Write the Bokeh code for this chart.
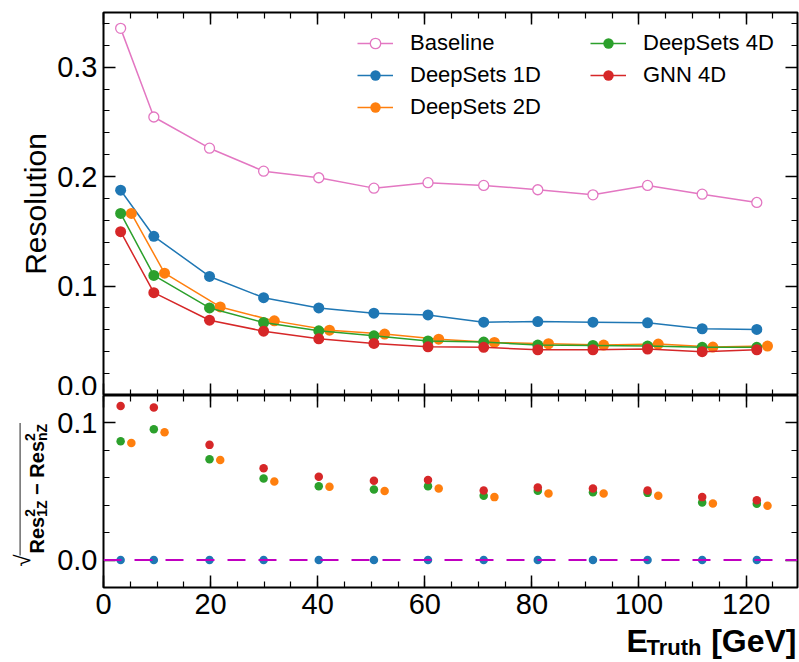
import numpy as np
from bokeh.plotting import figure
from bokeh.models import (Range1d, FixedTicker, LinearAxis, PrintfTickFormatter,
                          Legend, LegendItem, Span)
from bokeh.core.properties import value
from bokeh.layouts import column, row
from bokeh.embed import file_html
from bokeh.resources import INLINE

# ---------------- data ----------------
e_truth = [3.2, 9.4, 19.8, 29.9, 40.2, 50.5, 60.6, 71.0, 81.1, 91.4, 101.6, 111.8, 122.0]
shift_2d = 2.0

res_baseline = [0.3355, 0.2545, 0.226, 0.205, 0.199, 0.1895, 0.1945, 0.192, 0.188, 0.1834, 0.192, 0.184, 0.1764]
res_ds1d = [0.1876, 0.1455, 0.1088, 0.0894, 0.080, 0.0752, 0.0736, 0.067, 0.0676, 0.067, 0.0664, 0.061, 0.0604]
res_ds2d = [0.1664, 0.1118, 0.0809, 0.0682, 0.0597, 0.0561, 0.0515, 0.0485, 0.0473, 0.0461, 0.047, 0.0443, 0.0452]
res_ds4d = [0.1664, 0.1097, 0.080, 0.0667, 0.0591, 0.0545, 0.0498, 0.0488, 0.0461, 0.0458, 0.0452, 0.044, 0.044]
res_gnn = [0.1497, 0.094, 0.0688, 0.0588, 0.0518, 0.0476, 0.0445, 0.044, 0.0418, 0.0418, 0.0425, 0.040, 0.0418]

diff_ds1d = [0.0, 0.0, 0.0, 0.0, 0.0, 0.0, 0.0, 0.0, 0.0, 0.0, 0.0, 0.0, 0.0]
diff_ds2d = [0.0854, 0.0932, 0.073, 0.0573, 0.0534, 0.0503, 0.0522, 0.0459, 0.0486, 0.0486, 0.0469, 0.0413, 0.0396]
diff_ds4d = [0.0867, 0.0954, 0.0736, 0.0595, 0.0539, 0.0515, 0.0539, 0.0469, 0.0505, 0.0495, 0.049, 0.042, 0.041]
diff_gnn = [0.1124, 0.1112, 0.084, 0.067, 0.0607, 0.0578, 0.0584, 0.0507, 0.053, 0.0522, 0.0507, 0.0459, 0.0437]

labels = ["Baseline", "DeepSets 1D", "DeepSets 2D", "DeepSets 4D", "GNN 4D"]
x_major = [0, 20, 40, 60, 80, 100, 120]
x_minor = [v for v in range(0, 130, 5)]
top_major = [0.0, 0.1, 0.2, 0.3]
top_minor = [round(0.02 * i, 2) for i in range(0, 18)]
bot_major = [0.0, 0.1]
bot_minor = [round(-0.02 + 0.02 * i, 2) for i in range(0, 8)]

C_BASE = "#e377c2"
C_1D = "#1f77b4"
C_2D = "#ff7f0e"
C_4D = "#2ca02c"
C_GNN = "#d62728"
FONT = "Liberation Sans"

W = 799
LEFT = 103
RIGHT = 2
LAB_W = 50
XR = Range1d(0, 129.6)


def style_axis(ax, show_labels, ticks, minor, fmt="%.1f"):
    ax.ticker = FixedTicker(ticks=ticks, minor_ticks=minor)
    ax.formatter = PrintfTickFormatter(format=fmt)
    ax.major_tick_in = 12
    ax.major_tick_out = 0
    ax.minor_tick_in = 6
    ax.minor_tick_out = 0
    ax.major_tick_line_width = 1.5
    ax.minor_tick_line_width = 1.2
    ax.major_tick_line_color = "black"
    ax.minor_tick_line_color = "black"
    ax.axis_line_color = None
    ax.major_label_text_font = FONT
    ax.major_label_text_color = "black"
    if show_labels:
        ax.major_label_text_font_size = "29px"
        ax.major_label_standoff = 6
    else:
        ax.major_label_text_font_size = "0px"
        ax.major_label_standoff = 0


def bare_fig(w, h, xr, yr, left=0, right=0, top=0, bottom=0):
    f = figure(width=w, height=h, x_range=Range1d(*xr), y_range=Range1d(*yr),
               output_backend="svg", toolbar_location=None,
               x_axis_location=None, y_axis_location=None,
               min_border_left=left, min_border_right=right,
               min_border_top=top, min_border_bottom=bottom)
    f.xgrid.visible = False
    f.ygrid.visible = False
    f.outline_line_color = None
    f.background_fill_color = "white"
    f.border_fill_color = "white"
    return f


# ---------------- top panel ----------------
p1 = figure(width=W, height=395, x_range=XR, y_range=Range1d(0, 0.35),
            output_backend="svg", toolbar_location=None,
            min_border_left=LEFT, min_border_right=RIGHT,
            min_border_top=12, min_border_bottom=0)
p1.xgrid.visible = False
p1.ygrid.visible = False
p1.outline_line_color = "black"
p1.outline_line_width = 2
p1.background_fill_color = "white"
p1.border_fill_color = "white"
p1.add_layout(LinearAxis(), "above")
p1.add_layout(LinearAxis(), "right")
for ax in p1.xaxis:
    style_axis(ax, False, x_major, x_minor, "%d")
for ax in p1.yaxis:
    style_axis(ax, False, top_major, top_minor)
style_axis(p1.yaxis[0], True, top_major, top_minor)
p1.yaxis[0].axis_label = "Resolution"
p1.yaxis[0].axis_label_text_font = FONT
p1.yaxis[0].axis_label_text_font_size = "30px"
p1.yaxis[0].axis_label_text_font_style = "normal"
p1.yaxis[0].axis_label_text_color = "black"
p1.yaxis[0].axis_label_standoff = 2

x2 = [v + shift_2d for v in e_truth]
series = [
    (e_truth, res_ds1d, C_1D, labels[1]),
    (x2, res_ds2d, C_2D, labels[2]),
    (e_truth, res_ds4d, C_4D, labels[3]),
    (e_truth, res_gnn, C_GNN, labels[4]),
]
items = {}
lb = p1.line(e_truth, res_baseline, line_color=C_BASE, line_width=1.5)
sb = p1.scatter(e_truth, res_baseline, marker="circle", size=10, line_color=C_BASE,
                fill_color="white", line_width=1.3)
items[labels[0]] = [lb, sb]
for xs, ys, c, name in series:
    l = p1.line(xs, ys, line_color=c, line_width=1.5)
    s = p1.scatter(xs, ys, marker="circle", size=11, line_color=c, fill_color=c, line_width=0)
    items[name] = [l, s]

leg1 = Legend(items=[LegendItem(label=n, renderers=items[n]) for n in labels[:3]],
              location=(254, 275), orientation="vertical")
leg2 = Legend(items=[LegendItem(label=n, renderers=items[n]) for n in labels[3:]],
              location=(487, 307), orientation="vertical")
for lg in (leg1, leg2):
    lg.background_fill_alpha = 0
    lg.border_line_color = None
    lg.padding = 0
    lg.margin = 0
    lg.spacing = 6
    lg.glyph_width = 36
    lg.glyph_height = 26
    lg.label_height = 26
    lg.label_standoff = 17
    lg.label_text_font = FONT
    lg.label_text_font_size = "22px"
    lg.label_text_color = "black"
    lg.label_text_baseline = "middle"
    p1.add_layout(lg)

# ---------------- bottom panel ----------------
P2_TOP = 395
P2_FRAME = 192
P2_BOT = 33
P2_H = P2_FRAME + P2_BOT
FRAME_BOTTOM = P2_TOP + P2_FRAME
p2 = figure(width=W - LAB_W, height=P2_H, x_range=XR, y_range=Range1d(-0.02, 0.12),
            output_backend="svg", toolbar_location=None,
            min_border_left=LEFT - LAB_W, min_border_right=RIGHT,
            min_border_top=0, min_border_bottom=P2_BOT)
p2.xgrid.visible = False
p2.ygrid.visible = False
p2.outline_line_color = "black"
p2.outline_line_width = 2
p2.background_fill_color = "white"
p2.border_fill_color = "white"
p2.add_layout(LinearAxis(), "above")
p2.add_layout(LinearAxis(), "right")
for ax in p2.xaxis:
    style_axis(ax, False, x_major, x_minor, "%d")
for ax in p2.below:
    if isinstance(ax, LinearAxis):
        style_axis(ax, True, x_major, x_minor, "%d")
for ax in p2.yaxis:
    style_axis(ax, False, bot_major, bot_minor)
for ax in p2.left:
    if isinstance(ax, LinearAxis):
        style_axis(ax, True, bot_major, bot_minor)

p2.add_layout(Span(location=0, dimension="width", line_color="#c000c0", line_width=2,
                   line_dash="18 13"))
for xs, ys, c in [(e_truth, diff_ds1d, C_1D), (x2, diff_ds2d, C_2D),
                  (e_truth, diff_ds4d, C_4D), (e_truth, diff_gnn, C_GNN)]:
    p2.scatter(xs, ys, marker="circle", size=8.5, fill_color=c, line_color=c, line_width=0)

# ---------------- left label strip: data units = page pixels (y measured upward from frame bottom) ----
lab = bare_fig(LAB_W, P2_H, (0, LAB_W), (0, P2_FRAME), bottom=P2_BOT)


def put(f, text, px, yv, size, angle=0.0, align="left", style="bold"):
    f.text(x=[px], y=[yv], text=[text], angle=angle,
           text_font=value(FONT), text_font_size=value(f"{size}px"),
           text_font_style=value(style), text_align=value(align),
           text_baseline=value("middle"), text_color="black")


S = 20
s = 14
em = {"R": .722, "e": .556, "s": .556, "1": .556, "Z": .611, "n": .611, " ": .278, "\u2212": .584}


def wid(t, size):
    return sum(em[ch] for ch in t) * size


def ly(page_y):
    return FRAME_BOTTOM - page_y


ang = np.pi / 2
x_main, x_sub, x_sup = 36.5, 41.5, 29.0
y = 553.0
put(lab, "Res", x_main, ly(y), S, angle=ang)
y -= wid("Res", S)
put(lab, "2", x_sup, ly(y), s, angle=ang)
put(lab, "1Z", x_sub, ly(y), s, angle=ang)
y -= wid("1Z", s)
put(lab, "\u2212", x_main, ly(y - wid(" ", S)), S, angle=ang)
y -= wid(" \u2212 ", S)
put(lab, "Res", x_main, ly(y), S, angle=ang)
y -= wid("Res", S)
put(lab, "2", x_sup, ly(y), s, angle=ang)
put(lab, "nZ", x_sub, ly(y), s, angle=ang)
y -= wid("nZ", s)
y_top = y - 1
put(lab, "\u221a", 22, ly(566), 22, angle=ang, style="normal")
lab.segment(x0=[19.6], y0=[ly(555)], x1=[19.6], y1=[ly(y_top)], line_color="#555555", line_width=1.3)

# ---------------- x-axis label strip: x = page pixels, y measured upward from strip bottom ----
XL_H = 40
XL_BOTTOM = P2_TOP + P2_H + XL_H
xl = bare_fig(W, XL_H, (LEFT, W - RIGHT), (0, XL_H), left=LEFT, right=RIGHT)
put(xl, "E", 626, XL_BOTTOM - 640.5, 32)
put(xl, "Truth", 646, XL_BOTTOM - 646.5, 22)
put(xl, "[GeV]", 796, XL_BOTTOM - 640.5, 32, align="right")

layout = column(p1, row(lab, p2, spacing=0), xl, spacing=0)
open("out.html", "w").write(file_html(layout, INLINE))
